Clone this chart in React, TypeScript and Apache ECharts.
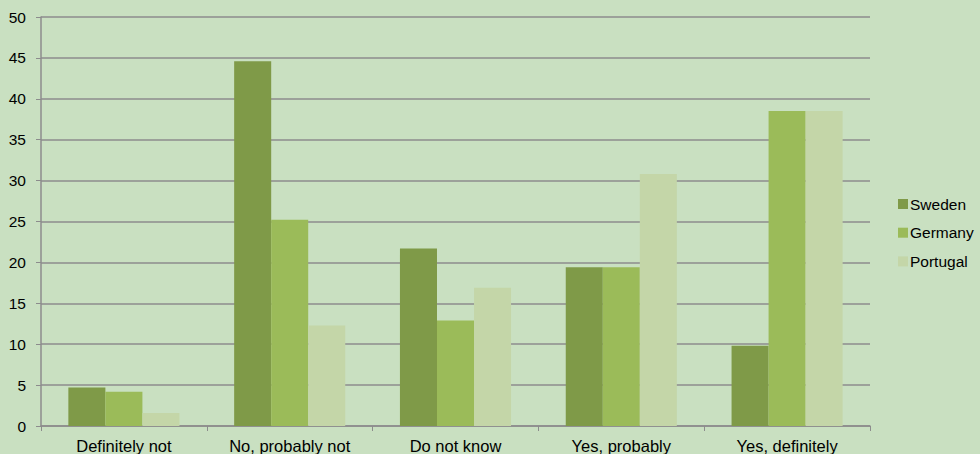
import React, { useEffect, useRef } from "react";
import * as echarts from "echarts";

const categories = ["Definitely not", "No, probably not", "Do not know", "Yes, probably", "Yes, definitely"];
const sweden = [4.7, 44.6, 21.7, 19.4, 9.8];
const germany = [4.2, 25.2, 12.9, 19.4, 38.5];
const portugal = [1.6, 12.3, 16.9, 30.8, 38.5];

export default function App() {
  const ref = useRef<HTMLDivElement>(null);
  useEffect(() => {
    const chart = echarts.init(ref.current!, null, { renderer: "svg" });
    const font = "Liberation Sans, Arial, sans-serif";
    chart.setOption({
      animation: false,
      backgroundColor: "#c9e0c1",
      textStyle: { fontFamily: font },
      grid: { left: 41, right: 110, top: 17, bottom: 28, containLabel: false },
      legend: {
        orient: "vertical",
        left: 898,
        top: 196,
        padding: 0,
        itemWidth: 10,
        itemHeight: 10,
        itemGap: 12.7,
        icon: "rect",
        textStyle: { fontSize: 15.5, lineHeight: 16, color: "#000", fontFamily: font, padding: [0, 0, 0, -3] },
        data: ["Sweden", "Germany", "Portugal"],
      },
      xAxis: {
        type: "category",
        data: categories,
        axisLine: { lineStyle: { color: "#8c8c8c", width: 1.5 } },
        axisTick: { show: true, length: 5, lineStyle: { color: "#8c8c8c" } },
        axisLabel: { fontSize: 16.5, color: "#000", margin: 11, fontFamily: font },
      },
      yAxis: {
        type: "value",
        min: 0,
        max: 50,
        interval: 5,
        axisLine: { show: true, lineStyle: { color: "#8c8c8c", width: 1.5 } },
        axisTick: { show: true, length: 5, lineStyle: { color: "#8c8c8c" } },
        axisLabel: { fontSize: 15.5, color: "#000", margin: 15, fontFamily: font },
        splitLine: { lineStyle: { color: "#8c8c8c", width: 1.5 } },
      },
      series: [
        { name: "Sweden", type: "bar", data: sweden, itemStyle: { color: "#7f9a48" }, barGap: "0%", barCategoryGap: "33%" },
        { name: "Germany", type: "bar", data: germany, itemStyle: { color: "#9bbb59" }, barGap: "0%", barCategoryGap: "33%" },
        { name: "Portugal", type: "bar", data: portugal, itemStyle: { color: "#c4d6a8" }, barGap: "0%", barCategoryGap: "33%" },
      ],
    });
    return () => chart.dispose();
  }, []);
  return <div ref={ref} style={{ position: "fixed", left: 0, top: 0, width: 980, height: 454 }} />;
}
